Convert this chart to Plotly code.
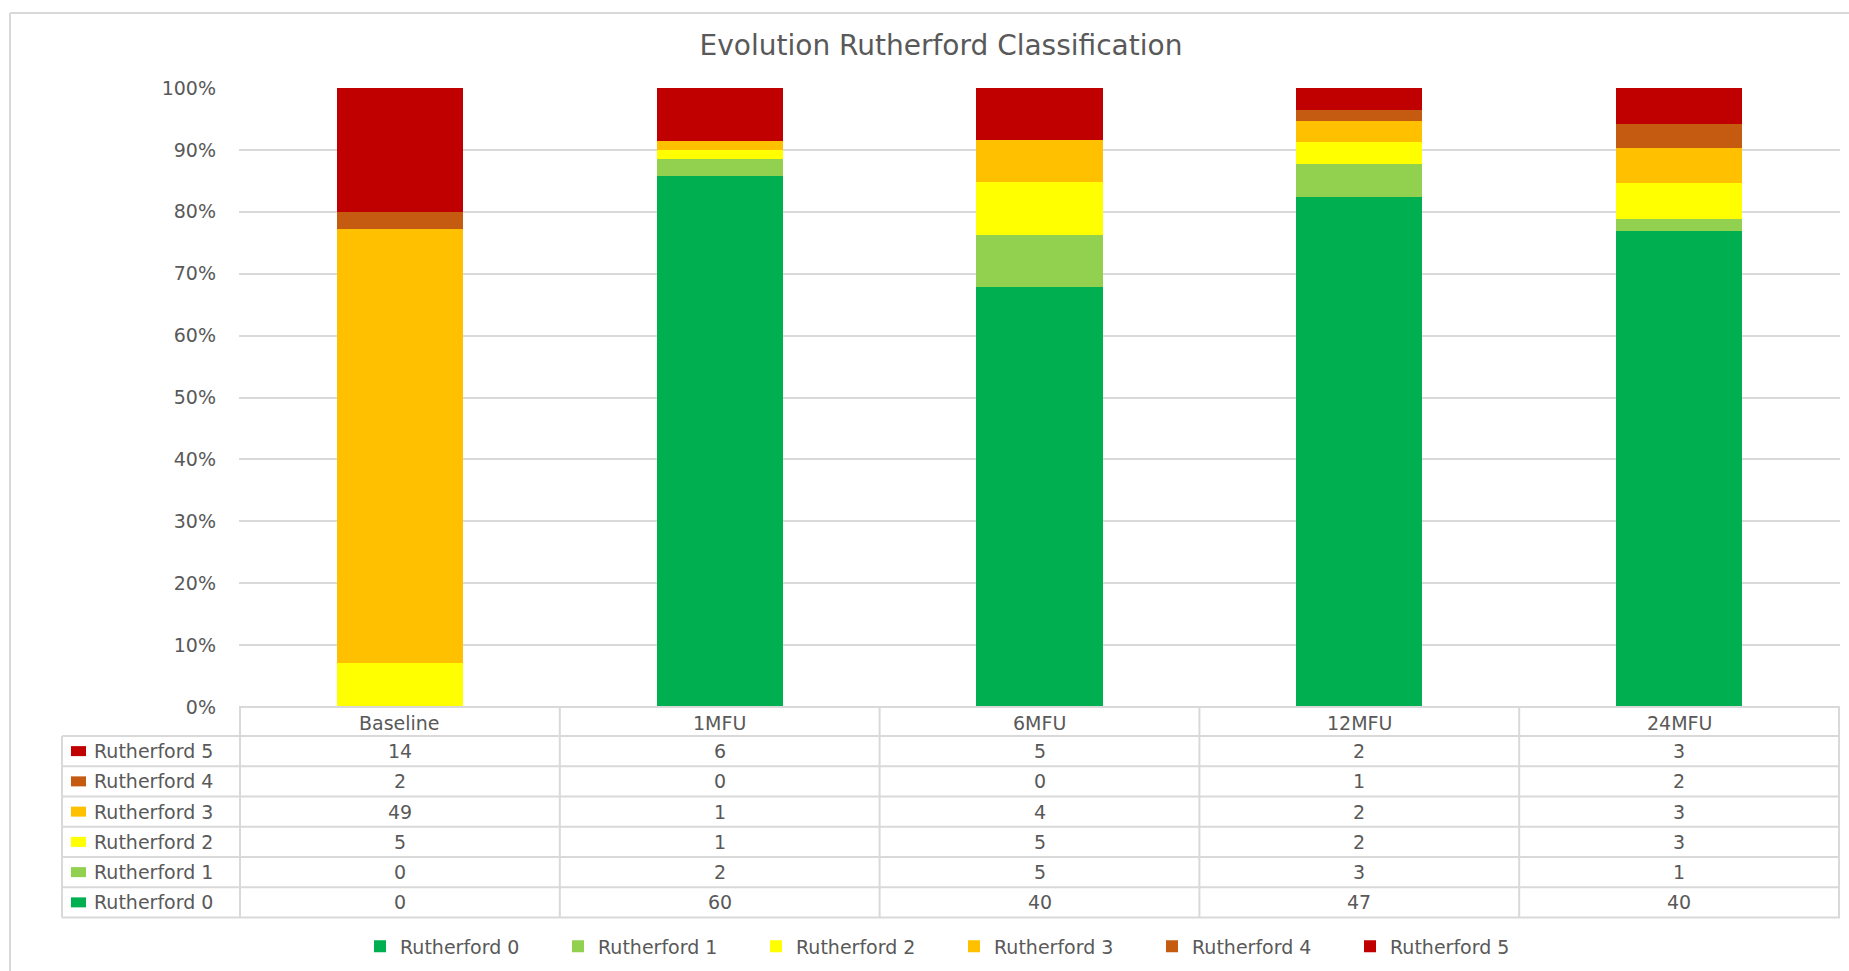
import plotly.graph_objects as go

categories = ["Baseline", "1MFU", "6MFU", "12MFU", "24MFU"]
series_names = ["Rutherford 0", "Rutherford 1", "Rutherford 2", "Rutherford 3", "Rutherford 4", "Rutherford 5"]
r0 = [0, 60, 40, 47, 40]
r1 = [0, 2, 5, 3, 1]
r2 = [5, 1, 5, 2, 3]
r3 = [49, 1, 4, 2, 3]
r4 = [2, 0, 0, 1, 2]
r5 = [14, 6, 5, 2, 3]
series_values = [r0, r1, r2, r3, r4, r5]
colors = ["#00B050", "#92D050", "#FFFF00", "#FFC000", "#C55A11", "#C00000"]
y_ticks = [0, 10, 20, 30, 40, 50, 60, 70, 80, 90, 100]
y_tick_labels = ["0%", "10%", "20%", "30%", "40%", "50%", "60%", "70%", "80%", "90%", "100%"]

W, H = 1849, 971
ML, MR, MT, MB = 239, 9, 88, 264
PW = W - ML - MR
PH = H - MT - MB
FONT = "DejaVu Sans"
FS = 19
TXT = "#595959"
GRID = "#D9D9D9"


def py(y):  # pixel y -> paper y
    return (H - MB - y) / PH


def px(x):  # pixel x -> paper x
    return (x - ML) / PW


fig = go.Figure()
for name, vals, col in zip(series_names, series_values, colors):
    fig.add_trace(go.Bar(x=categories, y=vals, name=name, marker=dict(color=col, line=dict(width=0)),
                         width=0.395))

shapes = []
annotations = []

# table geometry
table_left = 62
header_top = H - MB
header_bot = 736
row_h = (917.5 - 736) / 6
row_edges = [header_bot + row_h * i for i in range(7)]

shapes.append(dict(type="line", xref="paper", yref="paper", x0=0, x1=1, y0=py(header_top), y1=py(header_top),
                   line=dict(color=GRID, width=2)))
for ye in row_edges:
    shapes.append(dict(type="line", xref="paper", yref="paper", x0=px(table_left), x1=1, y0=py(ye), y1=py(ye),
                       line=dict(color=GRID, width=2)))
for i in range(len(categories) + 1):
    shapes.append(dict(type="line", xref="x", yref="paper", x0=i - 0.5, x1=i - 0.5,
                       y0=py(header_top), y1=py(row_edges[-1]), line=dict(color=GRID, width=2)))
shapes.append(dict(type="line", xref="paper", yref="paper", x0=px(table_left), x1=px(table_left),
                   y0=py(header_bot), y1=py(row_edges[-1]), line=dict(color=GRID, width=2)))

for c in categories:
    annotations.append(dict(x=c, xref="x", y=py((header_top + header_bot) / 2 + 1), yref="paper", text=c,
                            showarrow=False, font=dict(family=FONT, size=FS, color=TXT), yanchor="middle"))

for ri, si in enumerate(range(5, -1, -1)):
    yc = (row_edges[ri] + row_edges[ri + 1]) / 2
    shapes.append(dict(type="rect", xref="paper", yref="paper", x0=px(71), x1=px(86), y0=py(yc - 5), y1=py(yc + 5),
                       fillcolor=colors[si], line=dict(width=0)))
    annotations.append(dict(x=px(92), xref="paper", y=py(yc), yref="paper", text=series_names[si],
                            showarrow=False, xanchor="left", yanchor="middle",
                            font=dict(family=FONT, size=FS, color=TXT)))
    for ci, c in enumerate(categories):
        annotations.append(dict(x=c, xref="x", y=py(yc), yref="paper", text=str(series_values[si][ci]),
                                showarrow=False, yanchor="middle", font=dict(family=FONT, size=FS, color=TXT)))

# outer chart border (left and top visible)
shapes.append(dict(type="line", xref="paper", yref="paper", x0=px(10), x1=px(10), y0=py(13), y1=py(H + 20),
                   line=dict(color=GRID, width=2)))
shapes.append(dict(type="line", xref="paper", yref="paper", x0=px(10), x1=px(W + 20), y0=py(13), y1=py(13),
                   line=dict(color=GRID, width=2)))

fig.update_layout(
    width=W, height=H,
    margin=dict(l=ML, r=MR, t=MT, b=MB, autoexpand=False),
    barmode="stack", barnorm="percent",
    plot_bgcolor="white", paper_bgcolor="white",
    title=dict(text="Evolution Rutherford Classification", x=941 / W, xanchor="center", y=1 - 45 / H,
               yanchor="middle", font=dict(family=FONT, size=28, color=TXT)),
    xaxis=dict(showticklabels=False, showgrid=False, zeroline=False, showline=False, ticks=""),
    yaxis=dict(range=[0, 100], tickmode="array", tickvals=y_ticks, ticktext=y_tick_labels,
               showgrid=True, gridcolor=GRID, gridwidth=1.5,
               zeroline=False, showline=False, ticks="", ticklabelstandoff=22,
               tickfont=dict(family=FONT, size=FS, color=TXT)),
    legend=dict(orientation="h", x=px(954), xanchor="center", y=py(946.5), yanchor="middle",
                traceorder="normal", font=dict(family=FONT, size=FS, color=TXT),
                entrywidth=153, entrywidthmode="pixels", itemsizing="constant"),
    shapes=shapes, annotations=annotations,
    bargap=0.6,
)

fig.write_html("out.html")
